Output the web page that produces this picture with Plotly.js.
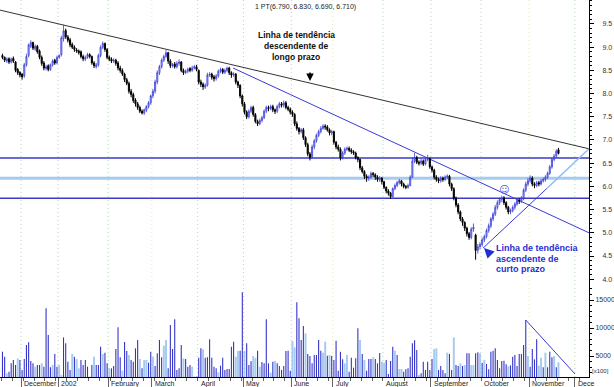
<!DOCTYPE html>
<html><head><meta charset="utf-8">
<script src="https://cdn.plot.ly/plotly-3.0.1.min.js"></script>
<style>html,body{margin:0;padding:0;background:#fff}#chart{width:614px;height:387px}</style>
</head><body><div id="chart"></div>
<script>
// ---- price data (daily OHLC, trading-day sequence) ----
const openP = [
8.82,8.78,8.70,8.75,8.68,8.76,8.68,8.52,8.46,8.42,
8.38,8.62,8.82,9.02,9.10,8.96,9.02,8.92,8.78,8.66,
8.54,8.60,8.52,8.62,8.72,8.66,8.78,8.84,9.18,9.36,
9.22,9.16,9.06,9.00,8.94,8.92,8.90,8.80,8.74,8.78,
8.84,8.80,8.66,8.58,8.62,8.82,9.00,9.08,8.95,8.78,
8.74,8.70,8.72,8.66,8.55,8.50,8.42,8.30,8.22,8.05,
7.98,7.86,7.78,7.70,7.62,7.58,7.64,7.72,7.80,7.95,
8.05,8.25,8.45,8.58,8.72,8.80,8.88,8.70,8.60,8.64,
8.58,8.65,8.68,8.50,8.45,8.48,8.54,8.50,8.55,8.58,
8.50,8.25,8.20,8.14,8.18,8.40,8.42,8.36,8.32,8.38,
8.48,8.52,8.46,8.50,8.55,8.45,8.40,8.42,8.25,8.18,
7.95,7.78,7.60,7.50,7.62,7.70,7.55,7.40,7.35,7.42,
7.48,7.62,7.70,7.68,7.72,7.65,7.62,7.72,7.78,7.75,
7.80,7.70,7.66,7.60,7.55,7.35,7.25,7.18,7.22,7.05,
6.90,6.70,6.62,6.85,6.98,7.10,7.18,7.25,7.30,7.28,
7.22,7.15,7.18,6.95,6.85,6.80,6.62,6.72,6.80,6.82,
6.78,6.75,6.72,6.62,6.58,6.40,6.32,6.22,6.18,6.20,
6.28,6.25,6.20,6.15,6.18,6.10,5.98,5.90,5.85,5.78,
5.95,6.02,6.08,6.12,6.05,6.00,5.98,6.02,6.20,6.55,
6.62,6.52,6.50,6.55,6.48,6.58,6.60,6.42,6.35,6.20,
6.15,6.12,6.18,6.15,6.20,6.22,6.05,5.95,5.75,5.60,
5.45,5.30,5.22,5.10,4.98,4.90,5.08,4.95,4.62,4.70,
4.75,4.85,4.92,5.05,5.15,5.30,5.40,5.55,5.65,5.72,
5.75,5.65,5.55,5.45,5.48,5.55,5.62,5.70,5.68,5.75,
5.92,6.05,6.12,6.18,6.05,6.02,6.08,6.05,6.12,6.15,
6.20,6.28,6.42,6.58,6.65,6.79];
const highP = [
8.86,8.80,8.78,8.78,8.78,8.80,8.70,8.55,8.48,8.44,
8.66,8.86,9.08,9.15,9.12,9.06,9.05,8.95,8.82,8.70,
8.62,8.63,8.65,8.74,8.75,8.82,8.85,9.25,9.48,9.40,
9.26,9.20,9.10,9.04,8.98,8.95,8.93,8.84,8.82,8.88,
8.87,8.82,8.70,8.66,8.86,9.04,9.12,9.10,8.98,8.82,
8.78,8.76,8.75,8.70,8.60,8.54,8.45,8.34,8.26,8.10,
8.02,7.90,7.82,7.74,7.66,7.68,7.75,7.84,7.98,8.10,
8.30,8.50,8.62,8.76,8.84,8.94,8.90,8.74,8.66,8.68,
8.70,8.74,8.70,8.54,8.52,8.56,8.57,8.60,8.62,8.62,
8.52,8.30,8.24,8.22,8.45,8.46,8.45,8.40,8.42,8.52,
8.56,8.55,8.54,8.58,8.58,8.48,8.46,8.44,8.28,8.20,
7.98,7.82,7.64,7.66,7.74,7.74,7.58,7.44,7.46,7.52,
7.66,7.74,7.74,7.76,7.76,7.68,7.76,7.82,7.82,7.85,
7.84,7.74,7.70,7.64,7.58,7.40,7.28,7.26,7.26,7.08,
6.94,6.74,6.90,7.02,7.14,7.22,7.30,7.34,7.34,7.32,
7.25,7.22,7.20,6.98,6.90,6.84,6.76,6.84,6.86,6.86,
6.82,6.78,6.75,6.65,6.60,6.44,6.35,6.26,6.24,6.32,
6.31,6.28,6.24,6.22,6.20,6.12,6.00,5.94,5.88,5.98,
6.06,6.12,6.16,6.14,6.08,6.03,6.06,6.24,6.62,6.72,
6.66,6.56,6.60,6.58,6.62,6.68,6.62,6.45,6.38,6.24,
6.19,6.22,6.21,6.24,6.26,6.25,6.08,5.98,5.78,5.64,
5.48,5.34,5.25,5.13,5.02,5.12,5.20,4.98,4.76,4.80,
4.90,4.96,5.09,5.20,5.34,5.45,5.60,5.70,5.76,5.80,
5.79,5.68,5.58,5.52,5.59,5.66,5.74,5.74,5.79,5.96,
6.10,6.18,6.24,6.22,6.09,6.12,6.12,6.16,6.19,6.24,
6.32,6.46,6.62,6.70,6.80,6.83];
const lowP = [
8.74,8.68,8.66,8.64,8.65,8.66,8.46,8.40,8.35,8.30,
8.34,8.58,8.78,8.98,8.94,8.92,8.86,8.74,8.60,8.50,
8.50,8.48,8.49,8.58,8.62,8.63,8.75,8.80,9.12,9.18,
9.10,9.00,8.96,8.90,8.88,8.84,8.76,8.70,8.70,8.75,
8.76,8.62,8.55,8.54,8.58,8.78,8.96,8.90,8.74,8.70,
8.66,8.66,8.60,8.50,8.45,8.38,8.25,8.18,8.00,7.92,
7.80,7.72,7.65,7.58,7.55,7.54,7.60,7.68,7.76,7.90,
8.00,8.20,8.40,8.54,8.68,8.76,8.64,8.55,8.56,8.54,
8.54,8.60,8.46,8.40,8.42,8.44,8.46,8.47,8.52,8.48,
8.20,8.14,8.08,8.10,8.15,8.36,8.30,8.26,8.28,8.34,
8.44,8.42,8.42,8.46,8.40,8.34,8.36,8.20,8.12,7.90,
7.72,7.55,7.45,7.46,7.58,7.50,7.36,7.30,7.32,7.38,
7.45,7.58,7.62,7.64,7.60,7.56,7.58,7.68,7.70,7.70,
7.66,7.62,7.55,7.50,7.30,7.20,7.12,7.14,7.00,6.85,
6.65,6.56,6.60,6.80,6.94,7.06,7.14,7.22,7.22,7.18,
7.10,7.10,6.90,6.80,6.75,6.56,6.58,6.68,6.76,6.74,
6.70,6.68,6.58,6.52,6.35,6.28,6.16,6.10,6.12,6.16,
6.20,6.14,6.10,6.10,6.04,5.94,5.85,5.80,5.73,5.76,
5.92,5.98,6.04,6.00,5.96,5.94,5.95,6.00,6.18,6.50,
6.48,6.45,6.46,6.44,6.45,6.54,6.38,6.30,6.15,6.10,
6.07,6.08,6.10,6.12,6.16,6.00,5.90,5.70,5.55,5.40,
5.25,5.15,5.04,4.92,4.85,4.86,5.02,4.42,4.55,4.64,
4.70,4.80,4.88,5.00,5.10,5.25,5.36,5.50,5.60,5.66,
5.60,5.50,5.40,5.40,5.44,5.50,5.58,5.62,5.64,5.70,
5.88,6.00,6.08,6.00,5.96,5.98,6.00,6.02,6.08,6.10,
6.16,6.25,6.38,6.54,6.62,6.69];
const closeP = [
8.78,8.72,8.75,8.68,8.74,8.70,8.50,8.45,8.40,8.36,
8.62,8.80,9.05,9.10,8.98,9.02,8.90,8.78,8.65,8.55,
8.58,8.52,8.62,8.70,8.66,8.78,8.82,9.20,9.35,9.22,
9.15,9.05,9.00,8.95,8.92,8.88,8.80,8.75,8.78,8.84,
8.80,8.66,8.60,8.62,8.82,9.00,9.08,8.95,8.78,8.74,
8.70,8.72,8.65,8.55,8.50,8.42,8.30,8.22,8.05,7.98,
7.85,7.78,7.70,7.62,7.58,7.65,7.72,7.80,7.95,8.05,
8.25,8.45,8.58,8.72,8.80,8.88,8.70,8.60,8.62,8.58,
8.65,8.68,8.50,8.45,8.48,8.52,8.50,8.55,8.58,8.52,
8.25,8.20,8.15,8.18,8.40,8.42,8.35,8.32,8.38,8.48,
8.52,8.46,8.50,8.55,8.45,8.40,8.42,8.25,8.18,7.95,
7.78,7.60,7.50,7.62,7.70,7.55,7.40,7.35,7.42,7.48,
7.62,7.70,7.68,7.72,7.65,7.62,7.72,7.78,7.75,7.80,
7.70,7.66,7.60,7.55,7.35,7.25,7.18,7.22,7.05,6.90,
6.70,6.62,6.85,6.98,7.10,7.18,7.25,7.30,7.28,7.22,
7.15,7.18,6.95,6.85,6.80,6.62,6.72,6.80,6.82,6.78,
6.75,6.72,6.62,6.58,6.40,6.32,6.22,6.18,6.20,6.28,
6.25,6.20,6.15,6.18,6.10,5.98,5.90,5.85,5.78,5.95,
6.02,6.08,6.12,6.05,6.00,5.98,6.02,6.20,6.55,6.62,
6.52,6.50,6.55,6.48,6.58,6.60,6.42,6.35,6.20,6.15,
6.12,6.18,6.15,6.20,6.22,6.05,5.95,5.75,5.60,5.45,
5.30,5.22,5.10,4.98,4.90,5.08,5.12,4.62,4.70,4.75,
4.85,4.92,5.05,5.15,5.30,5.40,5.55,5.65,5.72,5.75,
5.65,5.55,5.45,5.48,5.55,5.62,5.70,5.68,5.75,5.92,
6.05,6.12,6.18,6.05,6.02,6.08,6.05,6.12,6.15,6.20,
6.28,6.42,6.58,6.65,6.76,6.71];
// ---- volume (x100) and bar kind (D = dark, L = light) ----
const volume = [
5770,4880,1900,2200,3690,4290,3390,4580,4290,2500,
4460,6960,7440,4110,3690,3100,3390,3390,3690,3100,
13510,8750,2980,3390,5360,3100,3390,1610,8330,7260,
3990,2500,5360,4880,4460,2800,4290,3390,4290,3100,
1310,3390,4880,3390,3390,6670,5360,5600,3690,2800,
2800,3210,6250,10120,4760,2380,7500,5890,5180,4290,
3990,6370,7860,4460,2800,4290,4290,3800,5770,4880,
3210,5480,7860,4760,6850,7860,2800,10540,6250,11550,
2500,2800,6960,4580,4460,3100,3390,3100,1310,1310,
4700,6370,6190,4700,4760,7980,4700,3100,2800,2080,
3270,4700,2500,2680,2680,6670,7560,4880,5890,5950,
16370,5890,7260,3400,4050,5000,4640,5950,3100,3930,
3690,11550,3690,2020,3990,4110,3690,3210,2500,3210,
5890,5950,2380,7680,6550,14580,11730,7860,10360,9050,
5360,5000,3690,5180,5180,7860,5950,5600,7560,5060,
5180,5000,4290,7740,2380,5770,4400,3690,5180,2200,
4700,2920,4580,9940,7860,5360,4290,2380,4460,4460,
4760,4460,3690,5540,3990,3810,4290,1790,4110,6670,
5950,5180,2680,2680,2200,2620,2800,4880,7260,7800,
6070,1610,1900,3990,2500,3990,2500,4460,6250,6370,
2500,3210,2500,1900,5600,5360,2500,8330,3390,3210,
3690,3210,3390,5480,5480,3390,3390,5480,5660,5480,
3810,4290,3570,2620,5770,5950,6370,4290,2800,4110,
4170,3510,3160,3330,4880,5180,3210,5360,5360,6960,
11430,5000,3100,6250,4400,7980,3270,4700,2980,5600,
2980,5770,4760,5000,2980,3870];
const volumeKind = (
"DDLDDDDLDD"+"DDDDDLDDLD"+"DDDLDDLLDD"+"DDLDLLDDDD"+"LDLDDDLDDL"+
"DDDDDLDDLD"+"DDDLDLLDDL"+"DDDDLLDDDD"+"DDDLDDDLDD"+"DDLDDDDDDL"+
"DDDDDDDLLD"+"DLDDDLLDLD"+"DDDLDLDDDD"+"DDDLLDDDDL"+"DDDDDDDLLD"+
"LDDDDDDLLD"+"DDDDLDLDDD"+"LDDDLLDDDD"+"LDLLDDDDDD"+"DLDDDDDDLL"+
"DDDDLDDLDD"+"LDLDDLLDDL"+"DLDDDDDDDD"+"DDLDDDDDDD"+"DLDDDDLLDL"+
"DDDLDL").split("");
// ---- calendar: trading days per month, Nov 2001 .. Nov 2002 ----
const monthLabels = ["November","December","2002","February","March","April","May","June","July","August","September","October","November","Dece"];
const monthTradingDays = [22,17,23,20,21,21,22,19,23,22,23,22,21];
const tradingDaysBeforeData = 13;
// ---- drawn analysis lines (trading-day index, value) ----
const longTrendX = [-1.2, 269], longTrendY = [9.80, 6.81];
const shortDownX = [105.8, 269], shortDownY = [8.55, 5.00];
const upTrendX = [220.4, 250, 269], upTrendY = [4.67, 5.97, 6.81];
const levels = [6.61, 6.175, 5.745];
const volTrendX = [240, 262.6], volTrendY = [11430, 1785];

// ---- build ----
const n = closeP.length;
const idx = closeP.map((_, i) => i);
const bounds = [-tradingDaysBeforeData - 0.5];
monthTradingDays.forEach(d => bounds.push(bounds[bounds.length - 1] + d));

const W = 589, H = 377;
const PX = x => x / W, PY = y => 1 - y / H;
const priceDomainBottom = (H - 285) / H;
const FONT = "Liberation Sans, Arial, sans-serif";

const DARK = "#3434c8", LIGHT = "#a6cbf0";
const GRIDS = ["#b9d6b9", "#c8c8c8", "#b9d6b9", "#e6e6c0"];

const traces = [
  {type: "candlestick", x: idx, open: openP, high: highP, low: lowP, close: closeP,
   xaxis: "x", yaxis: "y", whiskerwidth: 0, hoverinfo: "skip",
   increasing: {line: {color: "#3a3ad8", width: 0.8}, fillcolor: LIGHT},
   decreasing: {line: {color: "#000000", width: 1}, fillcolor: "#000000"}},
  {type: "bar", x: idx, y: volume, xaxis: "x", yaxis: "y2", hoverinfo: "skip",
   marker: {color: volumeKind.map(k => k === "L" ? LIGHT : DARK), line: {width: 0}},
   width: volumeKind.map(k => k === "L" ? 0.9 : 0.5)}
];

const shapes = [];
bounds.slice(1).forEach((b, k) => shapes.push({type: "line", xref: "x", yref: "paper", x0: b, x1: b, y0: 0, y1: 1,
  line: {color: GRIDS[k % GRIDS.length], width: 1, dash: "1px,3px"}, layer: "below"}));
levels.forEach((v, k) => shapes.push({type: "line", xref: "paper", yref: "y", x0: 0, x1: 1, y0: v, y1: v,
  line: {color: k === 1 ? LIGHT : "#3a3ac8", width: k === 1 ? 3 : 1.5}, layer: "below"}));
shapes.push({type: "line", xref: "x", yref: "y", x0: longTrendX[0], x1: longTrendX[1], y0: longTrendY[0], y1: longTrendY[1],
  line: {color: "#333333", width: 1}, layer: "below"});
shapes.push({type: "line", xref: "x", yref: "y", x0: shortDownX[0], x1: shortDownX[1], y0: shortDownY[0], y1: shortDownY[1],
  line: {color: "#3a3ad8", width: 1}, layer: "below"});
shapes.push({type: "line", xref: "x", yref: "y", x0: upTrendX[0], x1: upTrendX[1], y0: upTrendY[0], y1: upTrendY[1],
  line: {color: "#3a3ad8", width: 1}, layer: "below"});
shapes.push({type: "line", xref: "x", yref: "y", x0: upTrendX[1], x1: upTrendX[2], y0: upTrendY[1], y1: upTrendY[2],
  line: {color: "#8fbdf0", width: 1.5}, layer: "below"});
shapes.push({type: "line", xref: "x", yref: "y2", x0: volTrendX[0], x1: volTrendX[1], y0: volTrendY[0], y1: volTrendY[1],
  line: {color: "#3a3ad8", width: 1}, layer: "above"});

const annotations = [];
monthLabels.forEach((t, k) => annotations.push({xref: "x", yref: "paper", x: bounds[k], y: 0,
  xanchor: "left", yanchor: "top", xshift: 1, yshift: -1, showarrow: false, text: t,
  font: {family: FONT, size: 7, color: "#222"}}));
const last = n - 1;
annotations.push({xref: "paper", yref: "paper", x: PX(305), y: PY(1), xanchor: "center", yanchor: "top", showarrow: false,
  text: "1 PT(" + [openP[last], highP[last], lowP[last], closeP[last]].map(v => v.toFixed(3)).join(", ") + ")",
  font: {family: FONT, size: 7, color: "#222"}});
["Linha de tendência", "descendente de", "longo prazo"].forEach((t, k) => annotations.push({
  xref: "paper", yref: "paper", x: PX(296), y: PY(35 + k * 11), xanchor: "center", yanchor: "middle", showarrow: false,
  text: "<b>" + t + "</b>", font: {family: FONT, size: 8.5, color: "#111"}}));
["Linha de tendência", "ascendente de", "curto prazo"].forEach((t, k) => annotations.push({
  xref: "paper", yref: "paper", x: PX(494), y: PY(248 + k * 10.5), xanchor: "left", yanchor: "middle", showarrow: false,
  text: "<b>" + t + "</b>", font: {family: FONT, size: 9, color: "#1f2fd0"}}));
annotations.push({xref: "paper", yref: "paper", x: PX(310), y: PY(81), ax: 0, ay: -10, showarrow: true, text: "",
  arrowhead: 2, arrowsize: 1, arrowwidth: 1.5, arrowcolor: "#000"});
annotations.push({xref: "paper", yref: "paper", x: PX(484), y: PY(248), ax: 8, ay: 8, showarrow: true, text: "",
  arrowhead: 2, arrowsize: 1, arrowwidth: 2, arrowcolor: "#1f2fd0"});
annotations.push({xref: "paper", yref: "paper", x: PX(510.5), y: PY(189.5), showarrow: false, text: "☺",
  font: {family: "DejaVu Sans", size: 10, color: "#4a5ae0"}});
annotations.push({xref: "paper", yref: "paper", x: 1, y: 0, xanchor: "left", yanchor: "bottom", xshift: 1, yshift: 1,
  showarrow: false, text: "[x100]", font: {family: FONT, size: 6, color: "#333"}});

const priceTicks = [], priceMinor = [];
for (let k = 0; k <= 11; k++) priceTicks.push(4 + k * 0.5);
for (let k = 0; k <= 60; k++) priceMinor.push(+(4 + k * 0.1).toFixed(1));
const volTicks = [5000, 10000, 15000], volMinor = [];
for (let k = 2; k <= 17; k++) volMinor.push(k * 1000);

const tickFont = {family: FONT, size: 7, color: "#333"};
const layout = {
  width: 614, height: 387, margin: {l: 0, r: 25, t: 0, b: 10},
  paper_bgcolor: "#fff", plot_bgcolor: "#fff", showlegend: false, dragmode: false,
  xaxis: {domain: [0, 1], anchor: "y2", range: [-1.13, 269.0], showline: true, linecolor: "#000", linewidth: 1,
    tickmode: "array", tickvals: bounds.slice(1), ticktext: bounds.slice(1).map(() => ""), showticklabels: false,
    ticks: "outside", ticklen: 9, tickcolor: "#666", showgrid: false, zeroline: false,
    rangeslider: {visible: false},
    minor: {tickmode: "linear", tick0: -0.5, dtick: 5, ticks: "outside", ticklen: 3, tickcolor: "#666", showgrid: false}},
  yaxis: {domain: [priceDomainBottom, 1], anchor: "x", side: "right", range: [3.875, 10.017],
    showline: true, linecolor: "#000", linewidth: 1, showgrid: false, zeroline: false,
    tickmode: "array", tickvals: priceTicks, ticktext: priceTicks.map(v => v.toFixed(1)),
    ticks: "outside", ticklen: 4, tickcolor: "#000", tickfont: tickFont, ticklabelstandoff: 7,
    minor: {tickmode: "array", tickvals: priceMinor, ticks: "outside", ticklen: 2, tickcolor: "#000", showgrid: false}},
  yaxis2: {domain: [0, priceDomainBottom], anchor: "x", side: "right", range: [1250, 17680],
    showline: true, linecolor: "#000", linewidth: 1, showgrid: false, zeroline: false,
    tickmode: "array", tickvals: volTicks, ticktext: volTicks.map(String),
    ticks: "outside", ticklen: 4, tickcolor: "#000", tickfont: tickFont, ticklabelstandoff: 0,
    minor: {tickmode: "array", tickvals: volMinor, ticks: "outside", ticklen: 2, tickcolor: "#000", showgrid: false}},
  shapes: shapes, annotations: annotations
};
Plotly.newPlot("chart", traces, layout, {staticPlot: true, displayModeBar: false});
</script></body></html>
